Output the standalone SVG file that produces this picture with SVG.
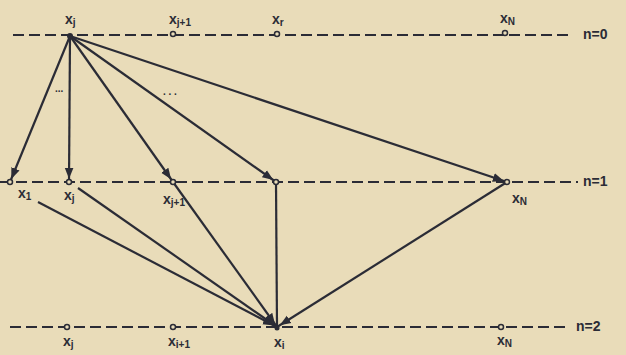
<svg xmlns="http://www.w3.org/2000/svg" width="626" height="355" viewBox="0 0 626 355">
<style>
.lvl{stroke:#2b2c36;stroke-width:2;stroke-dasharray:11,5;fill:none}
.e{stroke:#2b2c36;stroke-width:2.2;fill:none}
.o{fill:#e9dcb9;stroke:#2b2c36;stroke-width:1.5}
.f{fill:#2b2c36}
text{font-family:"Liberation Sans",Arial,sans-serif;font-weight:bold;fill:#2b2c36;font-size:14px}
.s{font-size:10px}
</style>
<defs>
<marker id="ah" viewBox="0 0 10 10" refX="13" refY="5" markerWidth="5" markerHeight="5" orient="auto" markerUnits="strokeWidth">
<path d="M0,1 L10,5 L0,9 z" fill="#2b2c36"/>
</marker>
</defs>
<rect width="626" height="355" fill="#e9dcb9"/>
<g id="levels">
<line class="lvl" x1="13" y1="35" x2="572" y2="35"/>
<line class="lvl" x1="0" y1="182" x2="578" y2="182"/>
<line class="lvl" x1="10" y1="327" x2="568" y2="327"/>
<text x="583" y="39">n=0</text>
<text x="583" y="186">n=1</text>
<text x="576" y="331">n=2</text>
</g>
<g id="connectors">
<line class="e" x1="70" y1="36" x2="10" y2="182" marker-end="url(#ah)"/>
<line class="e" x1="70" y1="36" x2="69" y2="182" marker-end="url(#ah)"/>
<line class="e" x1="70" y1="36" x2="173" y2="182" marker-end="url(#ah)"/>
<line class="e" x1="70" y1="36" x2="276" y2="182" marker-end="url(#ah)"/>
<line class="e" x1="70" y1="36" x2="507" y2="182" marker-end="url(#ah)"/>
<line class="e" x1="38" y1="202" x2="277" y2="327" marker-end="url(#ah)"/>
<line class="e" x1="78" y1="188" x2="277" y2="327" marker-end="url(#ah)"/>
<line class="e" x1="173" y1="182" x2="277" y2="327" marker-end="url(#ah)"/>
<line class="e" x1="276" y1="182" x2="277" y2="327"/>
<line class="e" x1="507" y1="182" x2="277" y2="327" marker-end="url(#ah)"/>
<text x="55" y="92" class="s">...</text>
<text x="163" y="95" class="s">. . .</text>
</g>
<g id="n0_xj"><circle cx="70" cy="36" r="3" class="f"/><text x="65" y="24">x<tspan class="s" dy="2">j</tspan></text></g>
<g id="n0_xj1"><circle cx="173" cy="34" r="2.5" class="o"/><text x="169" y="24">x<tspan class="s" dy="2">j+1</tspan></text></g>
<g id="n0_xr"><circle cx="277" cy="34" r="2.5" class="o"/><text x="272" y="24">x<tspan class="s" dy="2">r</tspan></text></g>
<g id="n0_xN"><circle cx="505" cy="33" r="2.5" class="o"/><text x="500" y="23">x<tspan class="s" dy="2">N</tspan></text></g>
<g id="n1_x1"><circle cx="10" cy="182" r="2.5" class="o"/><text x="18" y="198">x<tspan class="s" dy="2">1</tspan></text></g>
<g id="n1_xj"><circle cx="69" cy="182" r="2.5" class="o"/><text x="64" y="200">x<tspan class="s" dy="2">j</tspan></text></g>
<g id="n1_xj1"><circle cx="173" cy="182" r="2.5" class="o"/><text x="163" y="204">x<tspan class="s" dy="2">j+1</tspan></text></g>
<g id="n1_xr"><circle cx="276" cy="182" r="2.5" class="o"/></g>
<g id="n1_xN"><circle cx="507" cy="182" r="2.5" class="o"/><text x="512" y="203">x<tspan class="s" dy="2">N</tspan></text></g>
<g id="n2_xj"><circle cx="67" cy="327" r="2.5" class="o"/><text x="63" y="346">x<tspan class="s" dy="2">j</tspan></text></g>
<g id="n2_xi1"><circle cx="173" cy="327" r="2.5" class="o"/><text x="168" y="346">x<tspan class="s" dy="2">i+1</tspan></text></g>
<g id="n2_xi"><circle cx="277" cy="328" r="2.5" class="f"/><text x="274" y="347">x<tspan class="s" dy="2">i</tspan></text></g>
<g id="n2_xN"><circle cx="501" cy="327" r="2.5" class="o"/><text x="497" y="345">x<tspan class="s" dy="2">N</tspan></text></g>
</svg>
